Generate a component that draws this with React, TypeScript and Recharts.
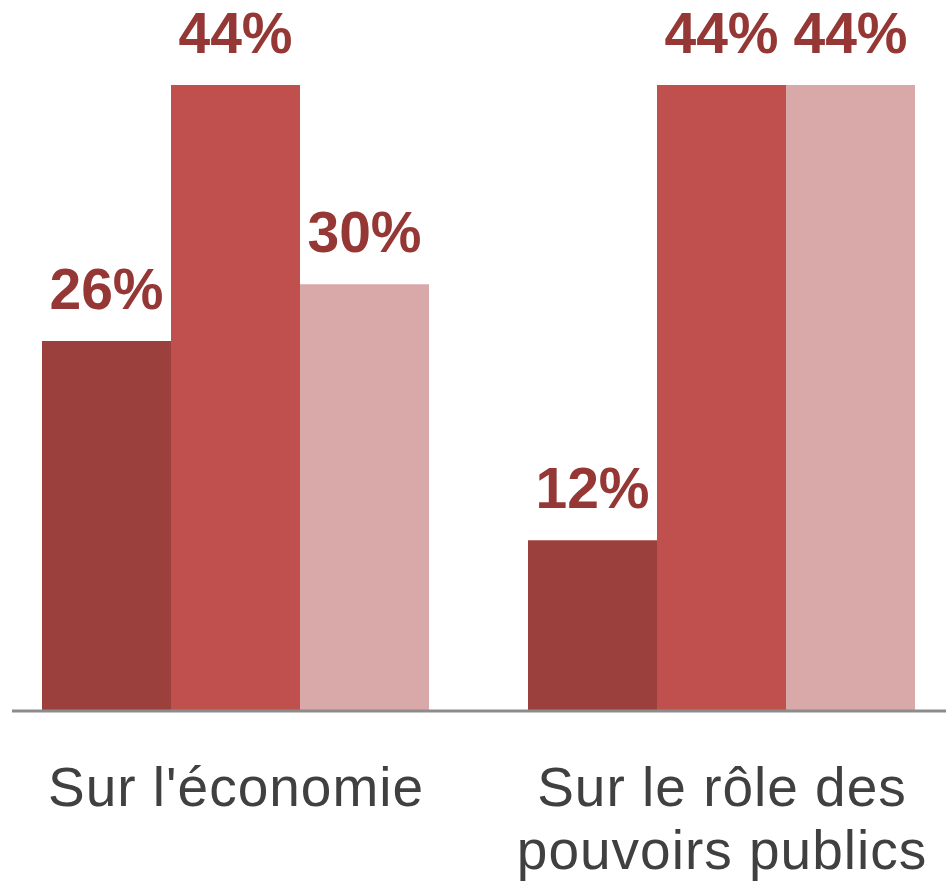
import React from "react";
import { BarChart, Bar, XAxis, YAxis, LabelList } from "recharts";

const categories = ["Sur l'économie", "Sur le rôle des pouvoirs publics"];
const tickLines = [["Sur l'économie"], ["Sur le rôle des", "pouvoirs publics"]];
const seriesA = [26, 12];
const seriesB = [44, 44];
const seriesC = [30, 44];

const COLORS = ["#9C403E", "#C0504D", "#D9A9A9"];
const LABEL_COLOR = "#953735";

const data = categories.map((name, i) => ({
  name,
  a: seriesA[i],
  b: seriesB[i],
  c: seriesC[i],
}));

const CategoryTick = (props: any) => {
  const { x, y, index } = props;
  const lines = tickLines[index] || [];
  return (
    <text
      x={x}
      y={y}
      textAnchor="middle"
      fill="#404040"
      fontSize={55}
      letterSpacing={1}
      fontFamily="'Liberation Sans', Arial, sans-serif"
    >
      {lines.map((line: string, i: number) => (
        <tspan key={i} x={x} y={y + 95 + i * 63}>
          {line}
        </tspan>
      ))}
    </text>
  );
};

const valueLabel = {
  position: "top" as const,
  offset: 32,
  fill: LABEL_COLOR,
  fontSize: 57,
  fontWeight: "bold",
  fontFamily: "'Liberation Sans', Arial, sans-serif",
  formatter: (v: any) => `${v}%`,
};

export default function App() {
  return (
    <div style={{ position: "absolute", left: 0, top: 0, background: "#fff" }}>
      <BarChart
        width={946}
        height={882}
        data={data}
        margin={{ top: 85, right: 0, left: 12, bottom: 11 }}
        barCategoryGap={49}
        barGap={0}
      >
        <XAxis
          dataKey="name"
          height={160}
          padding={{ left: -19, right: -19 }}
          axisLine={{ stroke: "#8C8C8C", strokeWidth: 3 }}
          tickLine={false}
          tickSize={0}
          tickMargin={0}
          interval={0}
          tick={<CategoryTick />}
        />
        <YAxis hide domain={[0, 44]} />
        <Bar dataKey="a" fill={COLORS[0]} isAnimationActive={false}>
          <LabelList dataKey="a" {...valueLabel} />
        </Bar>
        <Bar dataKey="b" fill={COLORS[1]} isAnimationActive={false}>
          <LabelList dataKey="b" {...valueLabel} />
        </Bar>
        <Bar dataKey="c" fill={COLORS[2]} isAnimationActive={false}>
          <LabelList dataKey="c" {...valueLabel} />
        </Bar>
      </BarChart>
    </div>
  );
}
